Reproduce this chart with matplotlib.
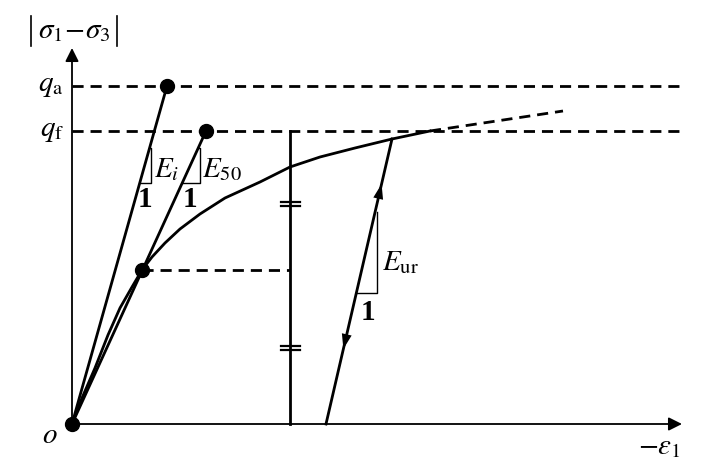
import numpy as np
import matplotlib.pyplot as plt

plt.rcParams['mathtext.fontset'] = 'stix'
plt.rcParams['font.family'] = ['Liberation Serif', 'DejaVu Serif']

# schematic values (strain, deviator stress) in drawing units
q_a = 338
q_f = 293
x_end = 610

curve_x = [0, 10, 23, 36, 48, 60, 70, 80, 93, 108, 128, 153, 188, 218, 248, 283, 320, 358]
curve_y = [0, 26, 56, 89, 116, 137, 154, 167, 181, 195, 210, 226, 242, 257, 267, 276, 285, 293]
ext_x = [358, 491]
ext_y = [293, 313]

Ei_pt = (95, q_a)          # end of initial modulus line
E50_pt = (134, q_f)        # end of secant modulus line
half_pt = (70, 154)        # 50% strength point
x_break = 218              # vertical line with break marks
break_y = [220, 76]
unload_x = [254, 320]
unload_y = [0, 285]

fig = plt.figure(figsize=(7.2, 4.74), dpi=100)
ax = fig.add_axes([0, 0, 1, 1])
ax.set_xlim(-72, 648)
ax.set_ylim(-50, 424)
ax.axis('off')

dash = dict(color='k', lw=2, dashes=(4, 2.5))

# axes with arrows
ax.annotate('', xy=(x_end, 0), xytext=(0, 0),
            arrowprops=dict(arrowstyle='-|>', lw=1.3, color='k', mutation_scale=20,
                            shrinkA=0, shrinkB=0))
ax.annotate('', xy=(0, 376), xytext=(0, 0),
            arrowprops=dict(arrowstyle='-|>', lw=1.3, color='k', mutation_scale=20,
                            shrinkA=0, shrinkB=0))

# horizontal dashed levels
ax.plot([0, x_end], [q_a, q_a], **dash)
ax.plot([0, x_end], [q_f, q_f], **dash)
ax.plot([half_pt[0], x_break], [half_pt[1], half_pt[1]], **dash)

# stress-strain curve and its dashed asymptote
ax.plot(curve_x, curve_y, color='k', lw=2, solid_joinstyle='round')
ax.plot(ext_x, ext_y, **dash)

# modulus lines
ax.plot([0, Ei_pt[0]], [0, Ei_pt[1]], color='k', lw=2)
ax.plot([0, E50_pt[0]], [0, E50_pt[1]], color='k', lw=2)

# vertical line with break marks
ax.plot([x_break, x_break], [0, q_f], color='k', lw=2)
for yb in break_y:
    for dy in (-2, 2):
        ax.plot([x_break - 9, x_break + 10], [yb + dy, yb + dy], color='k', lw=1.6)

# unloading / reloading line
ax.plot(unload_x, unload_y, color='k', lw=2)
sl = (unload_x[1] - unload_x[0]) / (unload_y[1] - unload_y[0])
for y0, y1 in [(222, 240), (93, 75)]:
    ax.annotate('', xy=(unload_x[0] + sl * y1, y1), xytext=(unload_x[0] + sl * y0, y0),
                arrowprops=dict(arrowstyle='-|>,head_length=0.6,head_width=0.2', lw=0,
                                color='k', mutation_scale=18, shrinkA=0, shrinkB=0))

# slope triangles
def slope_tri(x_end_line, y_end_line, xv, y_lo, y_hi, lab, lab_xy, one_xy):
    s = x_end_line / y_end_line
    ax.plot([s * y_lo, xv, xv, s * y_hi], [y_lo, y_lo, y_hi, y_hi], color='k', lw=1)
    ax.text(*lab_xy, lab, fontsize=21, ha='left', va='center')
    ax.text(*one_xy, '1', fontsize=21, fontweight='bold', ha='center', va='center')

slope_tri(Ei_pt[0], Ei_pt[1], 79, 241, 276, r'$E_i$', (82, 254), (73, 225))
slope_tri(E50_pt[0], E50_pt[1], 128, 241, 276, r'$E_{50}$', (130, 254), (118, 225))

# E_ur triangle on the unloading line
ax.plot([unload_x[0] + sl * 131, 305, 305], [131, 131, 212], color='k', lw=1)
ax.text(310, 161, r'$E_{\mathrm{ur}}$', fontsize=21, ha='left', va='center')
ax.text(296, 111, '1', fontsize=21, fontweight='bold', ha='center', va='center')

# points
ax.plot([Ei_pt[0], E50_pt[0], half_pt[0], 0], [Ei_pt[1], E50_pt[1], half_pt[1], 0],
        'o', color='k', ms=10)

# labels
ax.text(-8, q_a, r'$q_{\mathrm{a}}$', fontsize=21, ha='right', va='center')
ax.text(-8, q_f, r'$q_{\mathrm{f}}$', fontsize=21, ha='right', va='center')
ax.text(2, 393, r'$\sigma_1\!-\!\sigma_3$', fontsize=21, ha='center', va='center')
for xb in (-41, 45):
    ax.plot([xb, xb], [378, 408], color='k', lw=1.2)
ax.text(-22, -12, r'$o$', fontsize=21, ha='center', va='center')
ax.text(609, -23, r'$-\varepsilon_1$', fontsize=21, ha='right', va='center')

fig.savefig('out.png', dpi=100)
